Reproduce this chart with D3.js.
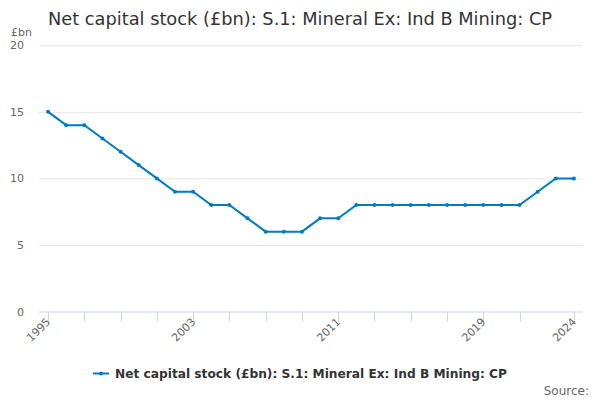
<!DOCTYPE html>
<html><head><meta charset="utf-8">
<script src="https://cdn.jsdelivr.net/npm/d3@7"></script>
<style>body{margin:0;background:#fff}svg{display:block;font-family:"DejaVu Sans",sans-serif}</style>
</head><body><svg id="c" width="600" height="400"></svg>
<script>
const years = d3.range(1995, 2025).map(String);
const values = [15,14,14,13,12,11,10,9,9,8,8,7,6,6,6,7,7,8,8,8,8,8,8,8,8,8,8,9,10,10];
const yTicks = [0,5,10,15,20];
const tickYears = ["1995","1997","1999","2001","2003","2005","2007","2009","2011","2013","2015","2017","2019","2021","2024"];
const labelYears = ["1995","2003","2011","2019","2024"];
const seriesName = "Net capital stock (£bn): S.1: Mineral Ex: Ind B Mining: CP";
const titleText = "Net capital stock (£bn): S.1: Mineral Ex: Ind B Mining: CP";

const svg = d3.select("#c");
const color = "#007ac3";
const L = 39, R = 583, T = 45.3, B = 311.5;
const x = d3.scaleBand().domain(years).range([L, R]);
const xc = d => x(d) + x.bandwidth()/2;
const y = d3.scaleLinear().domain([0,20]).range([B, T]);

svg.append("text").attr("x",300).attr("y",25).attr("text-anchor","middle")
  .attr("font-size",17.8).attr("fill","#333").text(titleText);

// grid
svg.append("g").selectAll("line").data(yTicks.filter(v=>v>0)).join("line")
  .attr("x1",L).attr("x2",R).attr("y1",d=>y(d)+0.5).attr("y2",d=>y(d)+0.5)
  .attr("stroke","#e6e6e6");
svg.append("g").selectAll("text").data(yTicks).join("text")
  .attr("x",24).attr("y",d=>y(d)+4).attr("text-anchor","end")
  .attr("font-size",11).attr("fill","#666").text(d=>d);
svg.append("text").attr("x",11).attr("y",36).attr("font-size",11).attr("fill","#666").text("£bn");

// x axis
svg.append("line").attr("x1",L).attr("x2",R).attr("y1",B+0.5).attr("y2",B+0.5).attr("stroke","#ccd6eb");
svg.append("g").selectAll("line").data(tickYears).join("line")
  .attr("x1",d=>Math.round(xc(d))+0.5).attr("x2",d=>Math.round(xc(d))+0.5)
  .attr("y1",B).attr("y2",B+10).attr("stroke","#ccd6eb");
svg.append("g").selectAll("text").data(labelYears).join("text")
  .attr("transform",d=>`translate(${xc(d)+3},${B+11}) rotate(-45)`)
  .attr("text-anchor","end").attr("font-size",11).attr("fill","#666").text(d=>d);

// line
const data = years.map((yr,i)=>({yr, v: values[i]}));
svg.append("path").datum(data)
  .attr("d", d3.line().x(d=>xc(d.yr)).y(d=>y(d.v)))
  .attr("fill","none").attr("stroke",color).attr("stroke-width",2);
svg.append("g").selectAll("circle").data(data).join("circle")
  .attr("cx",d=>xc(d.yr)).attr("cy",d=>y(d.v)).attr("r",2).attr("fill",color);

// legend
const lg = svg.append("g");
const lt = lg.append("text").attr("x",115).attr("y",378).attr("font-size",12.2)
  .attr("font-weight","bold").attr("fill","#333").text(seriesName);
lg.append("line").attr("x1",93).attr("x2",109).attr("y1",373.5).attr("y2",373.5).attr("stroke",color).attr("stroke-width",2);
lg.append("circle").attr("cx",101).attr("cy",373.5).attr("r",2).attr("fill",color);

svg.append("text").attr("x",589).attr("y",395).attr("text-anchor","end")
  .attr("font-size",12).attr("fill","#666").text("Source:");
</script></body></html>
